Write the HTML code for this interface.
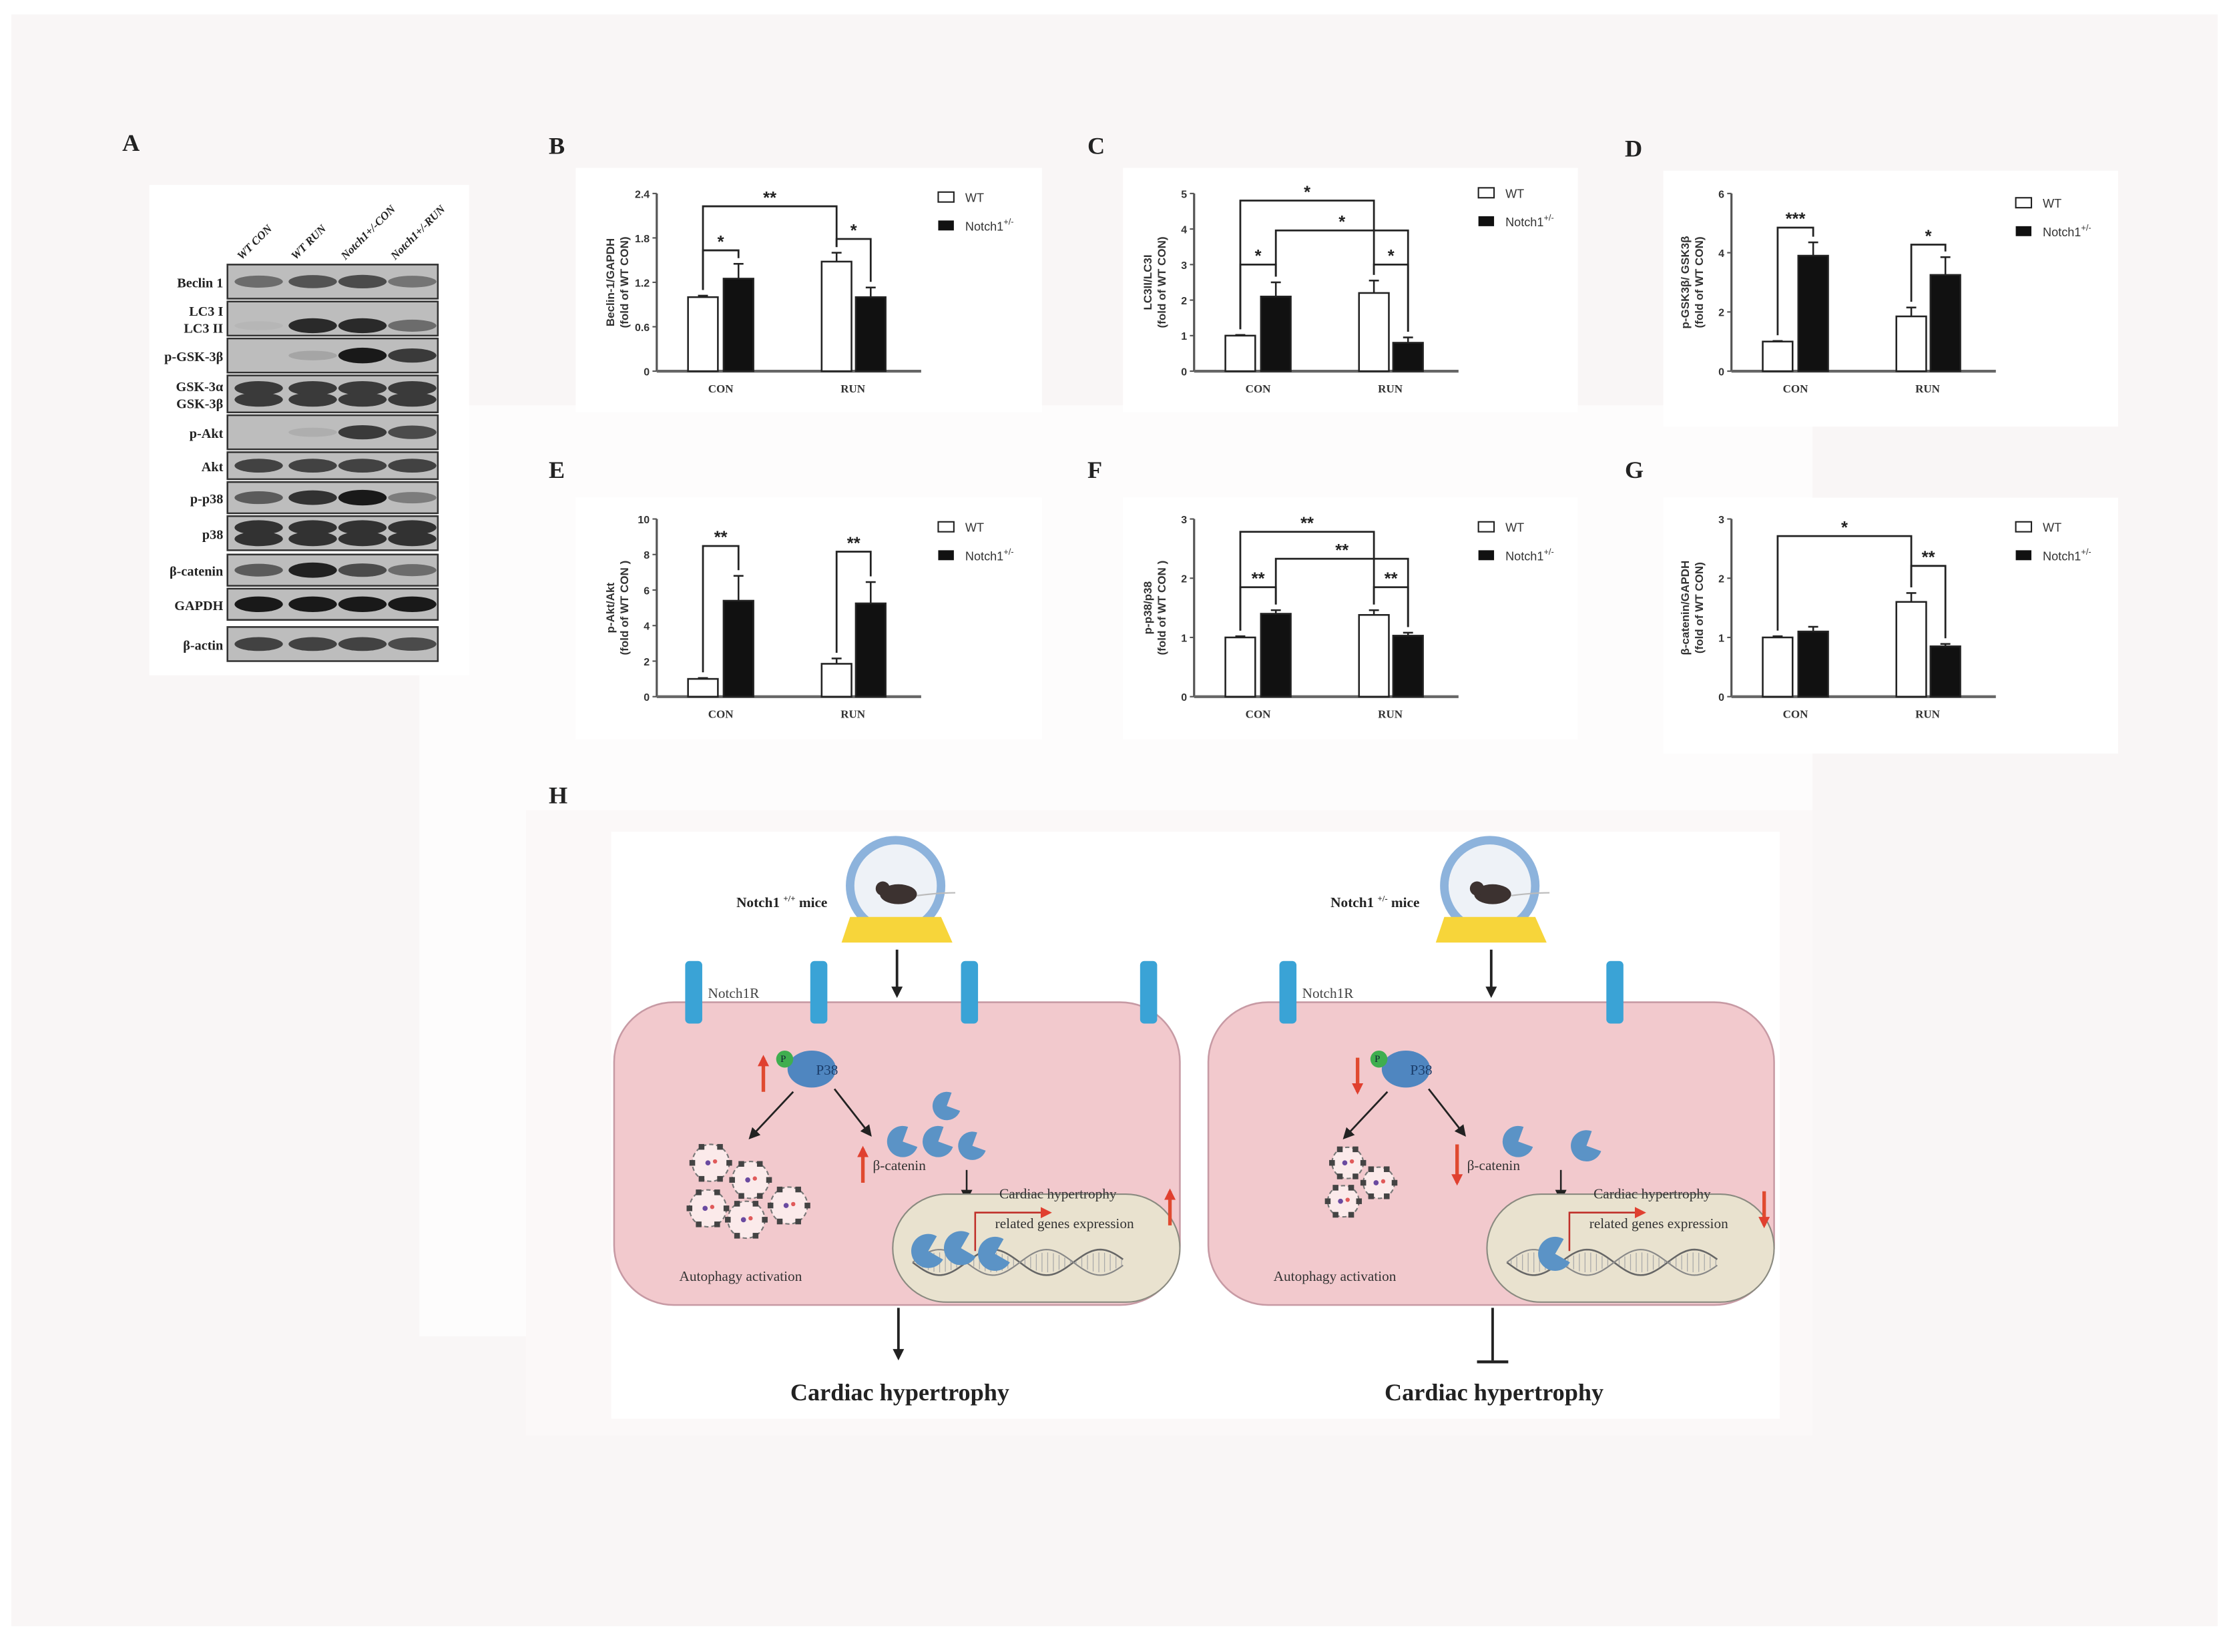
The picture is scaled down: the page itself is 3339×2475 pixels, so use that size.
<!DOCTYPE html>
<html><head><meta charset="utf-8"><style>
html,body{margin:0;padding:0;background:#fff}
svg{display:block}
text{font-family:"Liberation Serif",serif}
.s{font-family:"Liberation Sans",sans-serif}
</style></head><body>
<svg id="c" width="3339" height="2475" viewBox="0 0 1568 1162" xmlns="http://www.w3.org/2000/svg">
<rect x="0" y="0" width="1568" height="1162" fill="#ffffff"/>
<rect x="8" y="10" width="1552" height="1134" fill="#f9f6f6"/>
<rect x="295" y="285" width="980" height="655" fill="#fdfcfc"/>
<rect x="370" y="570" width="905" height="440" fill="#fbf8f8"/>
<rect x="430" y="585" width="822" height="413" fill="#ffffff"/>
<rect x="105" y="130" width="225" height="345" fill="#ffffff"/>
<rect x="405" y="118" width="328" height="172" fill="#ffffff"/>
<rect x="790" y="118" width="320" height="172" fill="#ffffff"/>
<rect x="1170" y="120" width="320" height="180" fill="#ffffff"/>
<rect x="405" y="350" width="328" height="170" fill="#ffffff"/>
<rect x="790" y="350" width="320" height="170" fill="#ffffff"/>
<rect x="1170" y="350" width="320" height="180" fill="#ffffff"/>
<g font-weight="bold" font-size="17" fill="#222">
<text x="86" y="106">A</text><text x="386" y="108">B</text><text x="765" y="108">C</text><text x="1143" y="110">D</text>
<text x="386" y="336">E</text><text x="765" y="336">F</text><text x="1143" y="336">G</text><text x="386" y="565">H</text>
</g>
<g id="blot"></g>
<g id="charts"></g>
<g id="H"></g>
</svg>
<script>
const NS="http://www.w3.org/2000/svg";
function el(p,t,a,txt){const e=document.createElementNS(NS,t);for(const k in a)e.setAttribute(k,a[k]);if(txt!==undefined)e.textContent=txt;p.appendChild(e);return e;}
const B=document.getElementById('blot');
const lanes=[182,220,255,290];
["WT CON","WT RUN","Notch1+/-CON","Notch1+/-RUN"].forEach((t,i)=>{
 el(B,'text',{x:lanes[i]-12,y:183,'font-size':8,'font-weight':'bold','font-style':'italic',transform:`rotate(-45 ${lanes[i]-12} 183)`,fill:'#222'},t);
});
const rows=[
 ["Beclin 1",186,24,[[.5,.55],[.65,.65],[.7,.7],[.45,.45]],[0]],
 ["LC3 I|LC3 II",212,24,[[.05,.1],[.9,.9],[.9,.9],[.5,.6]],[5]],
 ["p-GSK-3β",238,24,[[0,0],[.15,.15],[1,1.2],[.8,.8]],[0]],
 ["GSK-3α|GSK-3β",264,26,[[.8,.8],[.8,.8],[.8,.8],[.8,.8]],[-4,4]],
 ["p-Akt",292,24,[[0,0],[.1,.1],[.8,.8],[.7,.7]],[0]],
 ["Akt",318,19,[[.75,.75],[.75,.75],[.75,.75],[.75,.75]],[0]],
 ["p-p38",339,22,[[.6,.6],[.85,.85],[1,1],[.4,.4]],[0]],
 ["p38",363,24,[[.85,.85],[.85,.85],[.85,.85],[.85,.85]],[-4,4]],
 ["β-catenin",390,22,[[.6,.6],[.95,.95],[.7,.7],[.5,.5]],[0]],
 ["GAPDH",414,22,[[1,1],[1,1],[1,1],[1,1]],[0]],
 ["β-actin",441,24,[[.75,.75],[.75,.75],[.75,.75],[.7,.7]],[0]]
];
rows.forEach(r=>{
 const [lab,y,h,ints,offs]=r;
 el(B,'rect',{x:160,y:y,width:148,height:h,fill:'#bdbdbd',stroke:'#333','stroke-width':1.2});
 const cy=y+h/2;
 lanes.forEach((lx,i)=>{
  offs.forEach((o,k)=>{const v=ints[i][k]!==undefined?ints[i][k]:ints[i][0];if(v<=0.02)return;
   const g=Math.round(190-165*v);
   el(B,'ellipse',{cx:lx,cy:cy+o,rx:17,ry:3+2.5*v,fill:`rgb(${g},${g},${g})`});});
 });
 const parts=lab.split('|');
 parts.forEach((p,k)=>{el(B,'text',{x:157,y:cy+4+(parts.length>1?(k?6:-6):0),'font-size':9.5,'font-weight':'bold','text-anchor':'end',fill:'#222'},p);});
});
const C=document.getElementById('charts');
function chart(ax,top,bot,max,ticks,vals,brk,ylab,legx,legy){
 const ys=v=>bot-(v/max)*(bot-top);
 const xs=[ax+22,ax+47,ax+116,ax+140];
 const g=el(C,'g',{});
 el(g,'line',{x1:ax,y1:top,x2:ax,y2:bot,stroke:'#555','stroke-width':1.5});
 el(g,'line',{x1:ax,y1:bot,x2:ax+186,y2:bot,stroke:'#666','stroke-width':2});
 ticks.forEach(t=>{const y=ys(t);el(g,'line',{x1:ax-3,y1:y,x2:ax,y2:y,stroke:'#555'});
  el(g,'text',{x:ax-5,y:y+3,'font-size':7.5,'text-anchor':'end',class:'s','font-weight':'bold',fill:'#333'},String(t));});
 vals.forEach((v,i)=>{const x=xs[i],y=ys(v[0]);
  const ey=ys(v[0]+v[1]);
  el(g,'line',{x1:x+10.5,y1:y,x2:x+10.5,y2:ey,stroke:'#222','stroke-width':1.2});
  el(g,'line',{x1:x+7,y1:ey,x2:x+14,y2:ey,stroke:'#222','stroke-width':1.2});
  el(g,'rect',{x:x,y:y,width:21,height:bot-y,fill:i%2?'#111':'#fff',stroke:'#222','stroke-width':1.2});});
 el(g,'text',{x:ax+45,y:bot+15,'font-size':8,'font-weight':'bold','text-anchor':'middle',fill:'#333'},'CON');
 el(g,'text',{x:ax+138,y:bot+15,'font-size':8,'font-weight':'bold','text-anchor':'middle',fill:'#333'},'RUN');
 brk.forEach(b=>{const [i,j,y,l]=b;const x1=xs[i]+10.5,x2=xs[j]+10.5;
  const y1=ys(vals[i][0]+vals[i][1])-4,y2=ys(vals[j][0]+vals[j][1])-4;
  el(g,'polyline',{points:`${x1},${y1} ${x1},${y} ${x2},${y} ${x2},${y2}`,fill:'none',stroke:'#222','stroke-width':1.3});
  el(g,'text',{x:(x1+x2)/2,y:y-2,'font-size':12,'font-weight':'bold','text-anchor':'middle',class:'s',fill:'#222'},l);});
 const mx=ax-30,my=(top+bot)/2;
 ylab.forEach((t,k)=>{el(g,'text',{x:mx+k*10,y:my,'font-size':8,'font-weight':'bold',class:'s','text-anchor':'middle',transform:`rotate(-90 ${mx+k*10} ${my})`,fill:'#333'},t);});
 el(g,'rect',{x:legx,y:legy-6,width:11,height:7,fill:'#fff',stroke:'#222'});
 el(g,'text',{x:legx+19,y:legy+1,'font-size':8.5,class:'s',fill:'#333'},'WT');
 el(g,'rect',{x:legx,y:legy+14,width:11,height:7,fill:'#111'});
 const t=el(g,'text',{x:legx+19,y:legy+21,'font-size':8.5,class:'s',fill:'#333'},'Notch1');
 el(t,'tspan',{dy:-4,'font-size':6},'+/-');
}
chart(462,136,261,2.4,[0.0,0.6,1.2,1.8,2.4].map(v=>v.toFixed(1)*1),[[1,.02],[1.25,.2],[1.48,.12],[1,.13]],[[0,1,176,'*'],[0,2,145,'**'],[2,3,168,'*']],['Beclin-1/GAPDH','(fold of WT CON)'],660,141);
chart(840,136,261,5,[0,1,2,3,4,5],[[1,.02],[2.1,.4],[2.2,.35],[.8,.15]],[[0,1,186,'*'],[0,2,141,'*'],[1,3,162,'*'],[2,3,186,'*']],['LC3II/LC3I','(fold of WT CON)'],1040,138);
chart(1218,136,261,6,[0,2,4,6],[[1,.02],[3.9,.45],[1.85,.3],[3.25,.6]],[[0,1,160,'***'],[2,3,172,'*']],['p-GSK3β/ GSK3β','(fold of WT CON)'],1418,145);
chart(462,365,490,10,[0,2,4,6,8,10],[[1,.05],[5.4,1.4],[1.85,.3],[5.25,1.2]],[[0,1,384,'**'],[2,3,388,'**']],['p-Akt/Akt','(fold of WT CON )'],660,373);
chart(840,365,490,3,[0,1,2,3],[[1,.02],[1.4,.06],[1.38,.08],[1.03,.05]],[[0,1,413,'**'],[0,2,374,'**'],[1,3,393,'**'],[2,3,413,'**']],['p-p38/p38','(fold of WT CON )'],1040,373);
chart(1218,365,490,3,[0,1,2,3],[[1,.02],[1.1,.08],[1.6,.15],[.85,.04]],[[0,2,377,'*'],[2,3,398,'**']],['β-catenin/GAPDH','(fold of WT CON)'],1418,373);
const H=document.getElementById('H');
el(H,'defs',{}).innerHTML='<marker id="ab" markerWidth="8" markerHeight="8" refX="6" refY="4" orient="auto" markerUnits="userSpaceOnUse"><path d="M0,0 L8,4 L0,8 z" fill="#222"/></marker><marker id="ar" markerWidth="8" markerHeight="10" refX="6" refY="4" orient="auto" markerUnits="userSpaceOnUse"><path d="M0,0 L8,4 L0,8 z" fill="#e04030"/></marker>';
function redArrow(g,x,y1,y2){el(g,'line',{x1:x,y1:y1,x2:x,y2:y2,stroke:'#e04a30','stroke-width':2.5,'marker-end':'url(#ar)'});}
function crescent(g,cx,cy,r,rot){el(g,'path',{d:`M${cx+r},${cy} A${r},${r} 0 1 1 ${cx},${cy-r} L${cx},${cy} Z`,fill:'#5b93c6',transform:`rotate(${rot} ${cx} ${cy})`});}
function autoph(g,cx,cy,r){el(g,'circle',{cx,cy,r,fill:'#fbeaea',stroke:'#777','stroke-width':1,'stroke-dasharray':'3,2'});
 for(let a=0;a<6;a++){const t=a*Math.PI/3;el(g,'rect',{x:cx+r*Math.cos(t)-2,y:cy+r*Math.sin(t)-2,width:4,height:4,fill:'#444'});}
 el(g,'circle',{cx:cx-2,cy,r:1.8,fill:'#6a4aa0'});el(g,'circle',{cx:cx+3,cy:cy-1,r:1.5,fill:'#e05a5a'});}
function cell(ox,wt){
 const g=el(H,'g',{transform:`translate(${ox},0)`});
 el(g,'rect',{x:432,y:705,width:398,height:213,rx:42,fill:'#f2c9cd',stroke:'#c79aa4','stroke-width':1.2});
 const recs=wt?[488,576,682,808]:[488,718];
 recs.forEach(x=>el(g,'rect',{x:x-6,y:676,width:12,height:44,rx:3,fill:'#3aa3d6'}));
 el(g,'text',{x:498,y:702,'font-size':10,fill:'#444'},'Notch1R');
 el(g,'circle',{cx:630,cy:623,r:32,fill:'#eef2f7',stroke:'#8db3dc','stroke-width':6});
 el(g,'polygon',{points:'598,645 662,645 670,663 592,663',fill:'#f7d53a'});
 el(g,'ellipse',{cx:632,cy:629,rx:13,ry:7,fill:'#3c3230'});
 el(g,'circle',{cx:621,cy:625,r:5,fill:'#3c3230'});
 el(g,'path',{d:'M645,630 Q660,628 672,628',stroke:'#bbb',fill:'none','stroke-width':1});
 const t=el(g,'text',{x:518,y:638,'font-size':10,'font-weight':'bold',fill:'#222'},'Notch1 ');
 el(t,'tspan',{dy:-4,'font-size':6},wt?'+/+':'+/-');el(t,'tspan',{dy:4},' mice');
 el(g,'line',{x1:631,y1:668,x2:631,y2:700,stroke:'#222','stroke-width':1.8,'marker-end':'url(#ab)'});
 el(g,'ellipse',{cx:571,cy:752,rx:17,ry:13,fill:'#4f86c0'});
 el(g,'text',{x:574,y:756,'font-size':10,fill:'#1b3d6a'},'P38');
 el(g,'circle',{cx:552,cy:745,r:6,fill:'#3fae4f'});
 el(g,'text',{x:549,y:747,'font-size':7,fill:'#123'},'P');
 if(wt)redArrow(g,537,768,744);else redArrow(g,537,744,768);
 el(g,'line',{x1:558,y1:768,x2:528,y2:800,stroke:'#222','stroke-width':1.3,'marker-end':'url(#ab)'});
 el(g,'line',{x1:587,y1:766,x2:612,y2:798,stroke:'#222','stroke-width':1.3,'marker-end':'url(#ab)'});
 if(wt){crescent(g,635,803,11,20);crescent(g,660,803,11,20);crescent(g,666,778,10,20);crescent(g,684,806,10,20);redArrow(g,607,832,808);}
 else{crescent(g,650,803,11,20);crescent(g,698,806,11,20);redArrow(g,607,805,832);}
 el(g,'text',{x:614,y:823,'font-size':10,fill:'#333'},'β-catenin');
 el(g,'line',{x1:680,y1:823,x2:680,y2:843,stroke:'#222','stroke-width':1.2,'marker-end':'url(#ab)'});
 if(wt){[[500,818],[528,830],[498,850],[525,858],[555,848]].forEach(p=>autoph(g,p[0],p[1],13));}
 else{[[948,818],[945,845],[970,832]].forEach(p=>autoph(g,p[0]-418,p[1],11));}
 el(g,'text',{x:521,y:901,'font-size':10,'text-anchor':'middle',fill:'#333'},'Autophagy activation');
 el(g,'rect',{x:628,y:840,width:202,height:76,rx:38,fill:'#e9e2cf',stroke:'#8a8a80','stroke-width':1});
 el(g,'text',{x:703,y:843,'font-size':10,fill:'#333'},'Cardiac hypertrophy');
 el(g,'text',{x:700,y:864,'font-size':10,fill:'#333'},'related genes expression');
 el(g,'polyline',{points:'686,880 686,853 738,853',fill:'none',stroke:'#c0302a','stroke-width':1.2,'marker-end':'url(#ar)'});
 if(wt)redArrow(g,823,862,838);else redArrow(g,823,838,862);
 let d1='',d2='';for(let x=642;x<=790;x+=2){const y=888+9*Math.sin((x-642)/12);const y2=888-9*Math.sin((x-642)/12);d1+=(x==642?'M':'L')+x+','+y;d2+=(x==642?'M':'L')+x+','+y2;}
 el(g,'path',{d:d1,fill:'none',stroke:'#666','stroke-width':1.2});el(g,'path',{d:d2,fill:'none',stroke:'#888','stroke-width':1});
 for(let x=645;x<790;x+=4){el(g,'line',{x1:x,y1:888-7*Math.abs(Math.sin((x-642)/12)),x2:x,y2:888+7*Math.abs(Math.sin((x-642)/12)),stroke:'#aaa','stroke-width':.6});}
 if(wt){crescent(g,653,880,12,30);crescent(g,676,878,12,30);crescent(g,700,882,12,30);}else{crescent(g,676,882,12,30);}
 if(wt){el(g,'line',{x1:632,y1:920,x2:632,y2:955,stroke:'#222','stroke-width':1.8,'marker-end':'url(#ab)'});}
 else{el(g,'line',{x1:632,y1:920,x2:632,y2:957,stroke:'#222','stroke-width':1.8});el(g,'line',{x1:621,y1:958,x2:643,y2:958,stroke:'#222','stroke-width':2});}
 el(g,'text',{x:633,y:985,'font-size':17,'font-weight':'bold','text-anchor':'middle',fill:'#222'},'Cardiac hypertrophy');
}
cell(0,true);cell(418,false);
</script>
</body></html>
